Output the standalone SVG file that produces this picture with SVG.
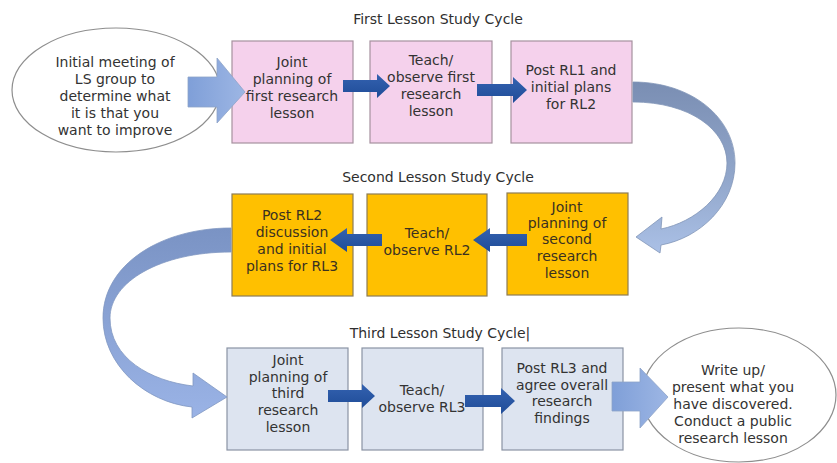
<svg xmlns="http://www.w3.org/2000/svg" width="837" height="463" viewBox="0 0 837 463">
  <defs>
    <linearGradient id="bigArrow" x1="0" y1="0" x2="1" y2="0">
      <stop offset="0" stop-color="#7f9fd8"/>
      <stop offset="1" stop-color="#9db6e4"/>
    </linearGradient>
    <linearGradient id="curveTop" x1="0" y1="0" x2="0" y2="1">
      <stop offset="0" stop-color="#7a8eb3"/>
      <stop offset="0.55" stop-color="#91a6ca"/>
      <stop offset="1" stop-color="#aac0e6"/>
    </linearGradient>
    <linearGradient id="curveLeft" x1="0" y1="0" x2="0" y2="1">
      <stop offset="0" stop-color="#7a93c4"/>
      <stop offset="1" stop-color="#9ab3e6"/>
    </linearGradient>
    <linearGradient id="smallArrow" x1="0" y1="0" x2="0" y2="1">
      <stop offset="0" stop-color="#3462b0"/>
      <stop offset="1" stop-color="#1f4c98"/>
    </linearGradient>
    <style>
      text { font-family: "DejaVu Sans", "Liberation Sans", sans-serif; font-size: 14px; fill: #333333; text-anchor: middle; }
      .title { font-size: 14px; fill: #2f2f2f; }
      .pink { fill: #f5d1ec; stroke: #a6919f; stroke-width: 1.2; }
      .orange { fill: #ffc000; stroke: #8d7c55; stroke-width: 1.2; }
      .blue { fill: #dde4f0; stroke: #8a93a4; stroke-width: 1.2; }
      .oval { fill: #ffffff; stroke: #8e8e8e; stroke-width: 1.2; }
      .orange-text text { fill: #3a3120; }
      .step { fill: url(#smallArrow); }
      .big { fill: url(#bigArrow); stroke: #8ea3c8; stroke-width: 0.8; }
    </style>
  </defs>

  <rect width="837" height="463" fill="#ffffff"/>

  <!-- cycle headings -->
  <text class="title" x="438" y="24">First Lesson Study Cycle</text>
  <text class="title" x="438" y="182">Second Lesson Study Cycle</text>
  <text class="title" x="440" y="338">Third Lesson Study Cycle|</text>

  <!-- start oval -->
  <g id="start">
    <ellipse class="oval" cx="116" cy="90" rx="104" ry="62"/>
    <text x="115" y="67">Initial meeting of</text>
    <text x="115" y="84">LS group to</text>
    <text x="115" y="101">determine what</text>
    <text x="115" y="118">it is that you</text>
    <text x="115" y="135">want to improve</text>
  </g>

  <!-- first cycle -->
  <g id="c1-plan">
    <rect class="pink" x="232" y="41" width="121" height="102"/>
    <text x="292" y="67">Joint</text>
    <text x="292" y="84">planning of</text>
    <text x="292" y="101">first research</text>
    <text x="292" y="118">lesson</text>
  </g>
  <g id="c1-teach">
    <rect class="pink" x="370" y="41" width="122" height="102"/>
    <text x="431" y="65">Teach/</text>
    <text x="431" y="82">observe first</text>
    <text x="431" y="99">research</text>
    <text x="431" y="116">lesson</text>
  </g>
  <g id="c1-post">
    <rect class="pink" x="511" y="41" width="121" height="102"/>
    <text x="571" y="75">Post RL1 and</text>
    <text x="571" y="92">initial plans</text>
    <text x="571" y="109">for RL2</text>
  </g>

  <!-- second cycle -->
  <g id="c2-post" class="orange-text">
    <rect class="orange" x="232" y="194" width="121" height="102"/>
    <text x="292" y="220">Post RL2</text>
    <text x="292" y="237">discussion</text>
    <text x="292" y="254">and initial</text>
    <text x="292" y="271">plans for RL3</text>
  </g>
  <g id="c2-teach" class="orange-text">
    <rect class="orange" x="367" y="194" width="120" height="102"/>
    <text x="427" y="238">Teach/</text>
    <text x="427" y="255">observe RL2</text>
  </g>
  <g id="c2-plan" class="orange-text">
    <rect class="orange" x="507" y="193" width="121" height="102"/>
    <text x="567" y="212">Joint</text>
    <text x="567" y="228">planning of</text>
    <text x="567" y="244">second</text>
    <text x="567" y="261">research</text>
    <text x="567" y="278">lesson</text>
  </g>

  <!-- third cycle -->
  <g id="c3-plan">
    <rect class="blue" x="227" y="348" width="121" height="102"/>
    <text x="288" y="365">Joint</text>
    <text x="288" y="382">planning of</text>
    <text x="288" y="398">third</text>
    <text x="288" y="415">research</text>
    <text x="288" y="432">lesson</text>
  </g>
  <g id="c3-teach">
    <rect class="blue" x="362" y="348" width="121" height="102"/>
    <text x="422" y="395">Teach/</text>
    <text x="422" y="412">observe RL3</text>
  </g>
  <g id="c3-post">
    <rect class="blue" x="502" y="348" width="121" height="102"/>
    <text x="562" y="373">Post RL3 and</text>
    <text x="562" y="390">agree overall</text>
    <text x="562" y="406">research</text>
    <text x="562" y="423">findings</text>
  </g>

  <!-- end oval -->
  <g id="finish">
    <ellipse class="oval" cx="739" cy="395" rx="97" ry="67"/>
    <text x="733" y="375">Write up/</text>
    <text x="733" y="392">present what you</text>
    <text x="733" y="409">have discovered.</text>
    <text x="733" y="426">Conduct a public</text>
    <text x="733" y="443">research lesson</text>
  </g>

  <!-- connectors -->
  <g id="connectors">
    <!-- block arrows into and out of the cycles -->
    <path class="big" d="M188,77 H217 V58 L245,92 L217,123 V107 H188 Z"/>
    <path class="big" d="M612,382 H640 V368 L668,397 L640,428 V411 H612 Z"/>

    <!-- steps within each cycle -->
    <path class="step" d="M343,80 H377 V74 L390,86 L377,98 V92 H343 Z"/>
    <path class="step" d="M477,84 H513 V77 L527,90 L513,103 V96 H477 Z"/>
    <path class="step" d="M527,234 H490 V228 L473,240 L490,252 V246 H527 Z"/>
    <path class="step" d="M382,234 H347 V228 L330,240 L347,252 V246 H382 Z"/>
    <path class="step" d="M328,390 H362 V384 L375,396 L362,408 V402 H328 Z"/>
    <path class="step" d="M465,395 H501 V388 L515,401 L501,414 V407 H465 Z"/>

    <!-- curved links between cycles -->
    <path d="M633,82 C692,82 735,118 735,163 C735,205 700,238 661,245 L660,253 L636,237 L662,217 L661,229 C695,222 727,195 727,163 C727,130 690,102 633,102 Z" fill="url(#curveTop)" stroke="#8295b8" stroke-width="0.8"/>
    <path d="M231,228 C160,228 103,265 103,318 C103,365 145,402 192,407 L192,418 L227,397 L193,373 L193,386 C150,381 110,358 110,318 C110,282 160,252 231,252 Z" fill="url(#curveLeft)" stroke="#8298c2" stroke-width="0.8"/>
  </g>
</svg>
